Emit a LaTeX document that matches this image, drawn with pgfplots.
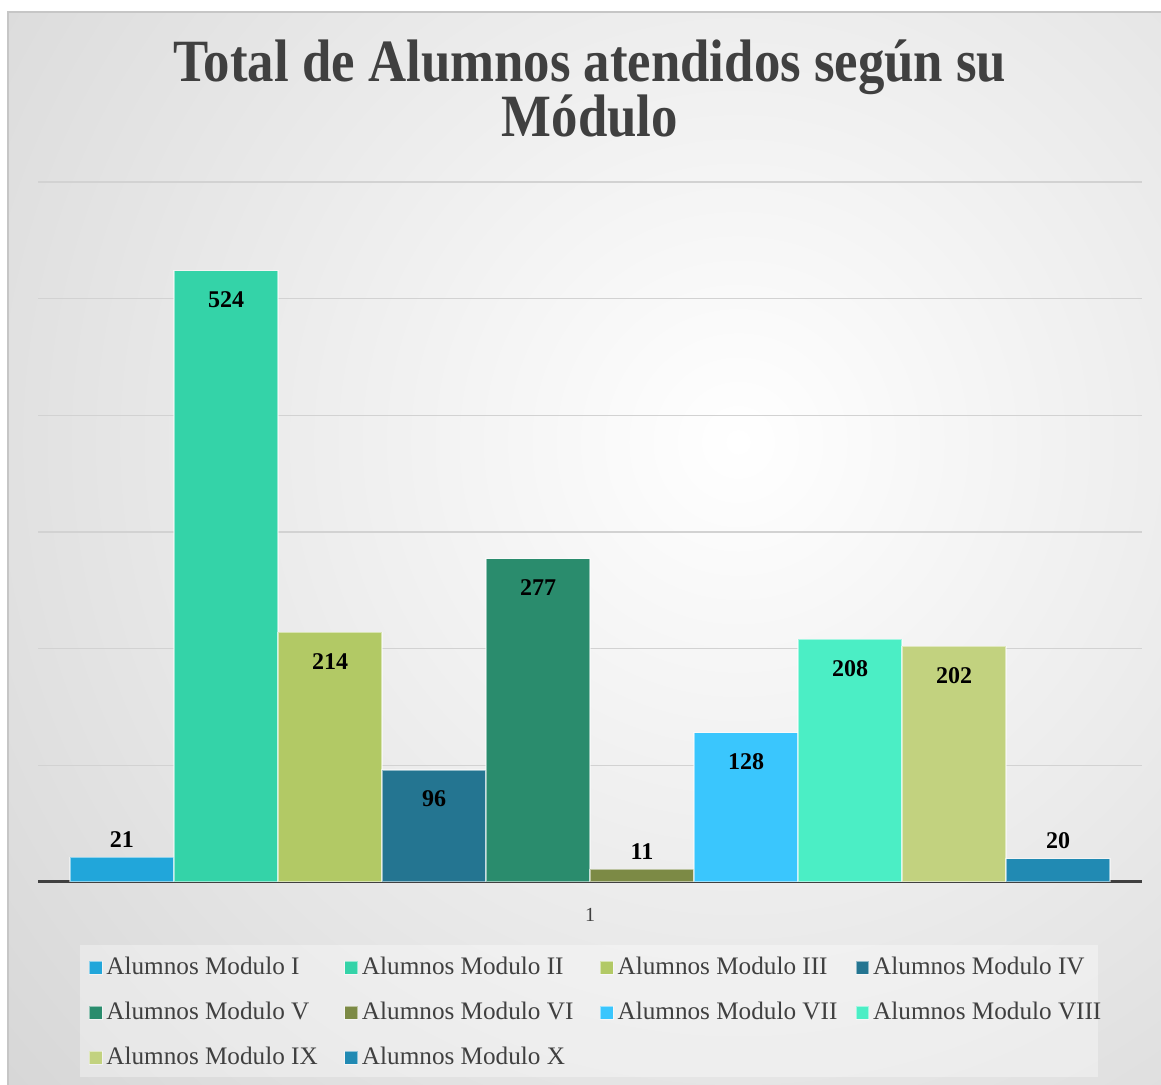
\documentclass[border=0pt]{standalone}
\usepackage{pgfplots}
\pgfplotsset{compat=1.18}
\usepackage{fontspec}
\setmainfont{Liberation Serif}
\newfontfamily\titlefont[FakeStretch=0.88]{Liberation Serif}

\definecolor{cI}{HTML}{21A6DA}
\definecolor{cII}{HTML}{34D3A8}
\definecolor{cIII}{HTML}{B2C965}
\definecolor{cIV}{HTML}{247591}
\definecolor{cV}{HTML}{2A8C6D}
\definecolor{cVI}{HTML}{7C8A45}
\definecolor{cVII}{HTML}{3AC6FD}
\definecolor{cVIII}{HTML}{4BEEC5}
\definecolor{cIX}{HTML}{C2D27F}
\definecolor{cX}{HTML}{218AB3}
\definecolor{textc}{HTML}{404040}
\definecolor{gridc}{HTML}{D2D2D2}
\definecolor{bgout}{HTML}{BDBDBD}

\begin{document}
\begin{tikzpicture}
\useasboundingbox (-19pt,-101.5pt) rectangle (561.5pt,441pt);
\fill[white] (-19pt,-101.5pt) rectangle (561.5pt,441pt);
% grey radial background
\begin{scope}
  \clip (-15pt,-101.5pt) rectangle (561.5pt,435pt);
  \shade[inner color=white, outer color=bgout] (350pt,220pt) circle (800pt);
\end{scope}
\draw[gray!45, line width=0.6pt] (-15pt,-101.5pt) -- (-15pt,435pt) -- (561.5pt,435pt);
% legend panel
\fill[white, opacity=0.35] (21pt,-31.5pt) rectangle (530pt,-97.5pt);

% title
\node[anchor=base, text=textc, font=\titlefont\bfseries\fontsize{30pt}{34pt}\selectfont]
  at (276pt,400pt) {Total de Alumnos atendidos según su};
\node[anchor=base, text=textc, font=\titlefont\bfseries\fontsize{30pt}{34pt}\selectfont]
  at (276pt,372.5pt) {Módulo};

\begin{axis}[
    scale only axis,
    width=552pt, height=350pt,
    xmin=0, xmax=2, ymin=0, ymax=600,
    ybar=0pt, bar width=52pt,
    ytick={0,100,...,600}, yticklabels={},
    ymajorgrids, grid style={draw=gridc, line width=0.6pt},
    xtick={1},
    xticklabel style={font=\fontsize{10pt}{12pt}\selectfont, text=textc, anchor=center, yshift=-16.5pt},
    major tick length=0pt,
    axis x line=bottom, axis y line=left,
    y axis line style={draw=none},
    x axis line style={-, draw=textc, line width=1.5pt},
    /pgf/number format/assume math mode=true,
    nodes near coords style={font=\bfseries\fontsize{12pt}{14pt}\selectfont, text=black},
    inlab/.style={nodes near coords, nodes near coords style={anchor=center, yshift=-14.5pt}},
    outlab/.style={nodes near coords, nodes near coords style={anchor=center, yshift=9pt}},
    every axis plot/.append style={draw=white, draw opacity=0.5, line width=0.6pt},
    legend columns=4,
    legend style={at={(0.5,0)}, anchor=north, xshift=5pt, yshift=-33.5pt, draw=none, fill=none,
        font=\fontsize{12.6pt}{15pt}\selectfont, text=textc,
        row sep=8.25pt,
        /tikz/every even column/.append style={column sep=0pt}},
    legend image code/.code={\draw[#1, draw=white, line width=0.4pt] (0pt,-3.2pt) rectangle (6.4pt,3.2pt);},
]
\addplot[fill=cI, outlab] coordinates {(1,21)};
\addplot[fill=cII, inlab] coordinates {(1,524)};
\addplot[fill=cIII, inlab] coordinates {(1,214)};
\addplot[fill=cIV, inlab] coordinates {(1,96)};
\addplot[fill=cV, inlab] coordinates {(1,277)};
\addplot[fill=cVI, outlab] coordinates {(1,11)};
\addplot[fill=cVII, inlab] coordinates {(1,128)};
\addplot[fill=cVIII, inlab] coordinates {(1,208)};
\addplot[fill=cIX, inlab] coordinates {(1,202)};
\addplot[fill=cX, outlab] coordinates {(1,20)};
\addlegendentry{\makebox[117pt][l]{Alumnos Modulo I}}
\addlegendentry{\makebox[117pt][l]{Alumnos Modulo II}}
\addlegendentry{\makebox[117pt][l]{Alumnos Modulo III}}
\addlegendentry{\makebox[117pt][l]{Alumnos Modulo IV}}
\addlegendentry{\makebox[117pt][l]{Alumnos Modulo V}}
\addlegendentry{\makebox[117pt][l]{Alumnos Modulo VI}}
\addlegendentry{\makebox[117pt][l]{Alumnos Modulo VII}}
\addlegendentry{\makebox[117pt][l]{Alumnos Modulo VIII}}
\addlegendentry{\makebox[117pt][l]{Alumnos Modulo IX}}
\addlegendentry{\makebox[117pt][l]{Alumnos Modulo X}}
\end{axis}
\end{tikzpicture}
\end{document}
